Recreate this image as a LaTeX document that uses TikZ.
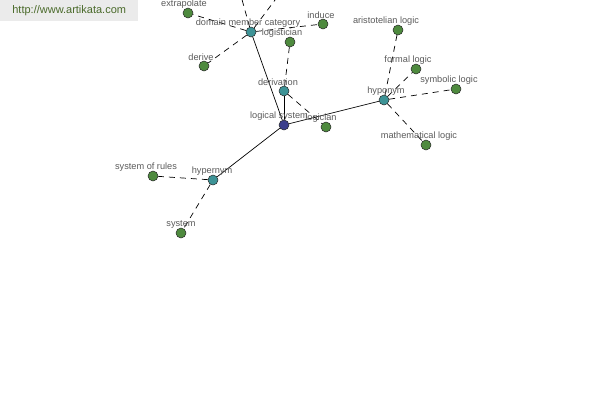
\documentclass[tikz,border=0pt]{standalone}
\usepackage{fontspec}
\setmainfont{Liberation Sans}
\usetikzlibrary{positioning, backgrounds}

\definecolor{leafgreen}{HTML}{4E8A3E}
\definecolor{hubteal}{HTML}{3D9396}
\definecolor{rootblue}{HTML}{3C3F8C}
\definecolor{labelgray}{HTML}{5A5A5A}
\definecolor{markgreen}{HTML}{4A6A2A}

\begin{document}
\begin{tikzpicture}[
  x=1pt, y=-1pt,
  font=\fontsize{9.2}{10}\selectfont,
  label distance=-0.5pt,
  every label/.style={text=labelgray, inner sep=0pt},
  dot/.style={circle, draw=black!85, line width=0.5pt, minimum size=10pt, inner sep=0pt},
  leaf/.style={dot, fill=leafgreen},
  hub/.style={dot, fill=hubteal},
  root/.style={dot, fill=rootblue},
  link/.style={line width=0.7pt},
  rel/.style={line width=0.7pt, dash pattern=on 6pt off 5pt}
]
  \useasboundingbox (0,0) rectangle (600,400);
  \node[fill=black!8, minimum width=138pt, minimum height=21pt, anchor=north west, text=markgreen, font=\fontsize{11}{12}\selectfont] (mark) at (0,0) {http://www.artikata.com};

  % nodes
  \node[hub, label={[xshift=-3pt]above:domain member category}] (dmc) at (251,32) {};
  \node[leaf, label={[xshift=-4pt]above:extrapolate}] (extrapolate) at (188,13) {};
  \node[leaf, label={[xshift=-3pt]above:derive}] (derive) at (204,66) {};
  \node[leaf, label={[xshift=-2pt]above:induce}] (induce) at (323,24) {};
  \node[leaf, label={[xshift=-8pt]above:logistician}] (logistician) at (290,42) {};
  \node[hub, label={[xshift=-6pt]above:derivation}] (derivation) at (284,91) {};
  \node[root, label={[xshift=-5pt]above:logical system}] (logsys) at (284,125) {};
  \node[leaf, label={[xshift=-5pt]above:logician}] (logician) at (326,127) {};
  \node[hub, label={[xshift=2pt]above:hyponym}] (hyponym) at (384,100) {};
  \node[leaf, label={[xshift=-12pt]above:aristotelian logic}] (aristotelian) at (398,30) {};
  \node[leaf, label={[xshift=-8pt]above:formal logic}] (formal) at (416,69) {};
  \node[leaf, label={[xshift=-7pt]above:symbolic logic}] (symbolic) at (456,89) {};
  \node[leaf, label={[xshift=-7pt]above:mathematical logic}] (mathematical) at (426,145) {};
  \node[hub, label={[xshift=-1pt]above:hypernym}] (hypernym) at (213,180) {};
  \node[leaf, label={[xshift=-7pt]above:system of rules}] (rules) at (153,176) {};
  \node[leaf, label={above:system}] (system) at (181,233) {};
  \coordinate (up1) at (231,-40);
  \coordinate (up2) at (305,-40);

  % connectors
  \begin{scope}[on background layer]
    \draw[link] (logsys) -- (dmc);
    \draw[link] (logsys) -- (derivation);
    \draw[link] (logsys) -- (hyponym);
    \draw[link] (logsys) -- (hypernym);
    \draw[rel] (dmc) -- (up1);
    \draw[rel] (dmc) -- (up2);
    \draw[rel] (dmc) -- (extrapolate);
    \draw[rel] (dmc) -- (derive);
    \draw[rel] (dmc) -- (induce);
    \draw[rel] (derivation) -- (logistician);
    \draw[rel] (derivation) -- (logician);
    \draw[rel] (hyponym) -- (aristotelian);
    \draw[rel] (hyponym) -- (formal);
    \draw[rel] (hyponym) -- (symbolic);
    \draw[rel] (hyponym) -- (mathematical);
    \draw[rel] (hypernym) -- (rules);
    \draw[rel] (hypernym) -- (system);
  \end{scope}
\end{tikzpicture}
\end{document}
